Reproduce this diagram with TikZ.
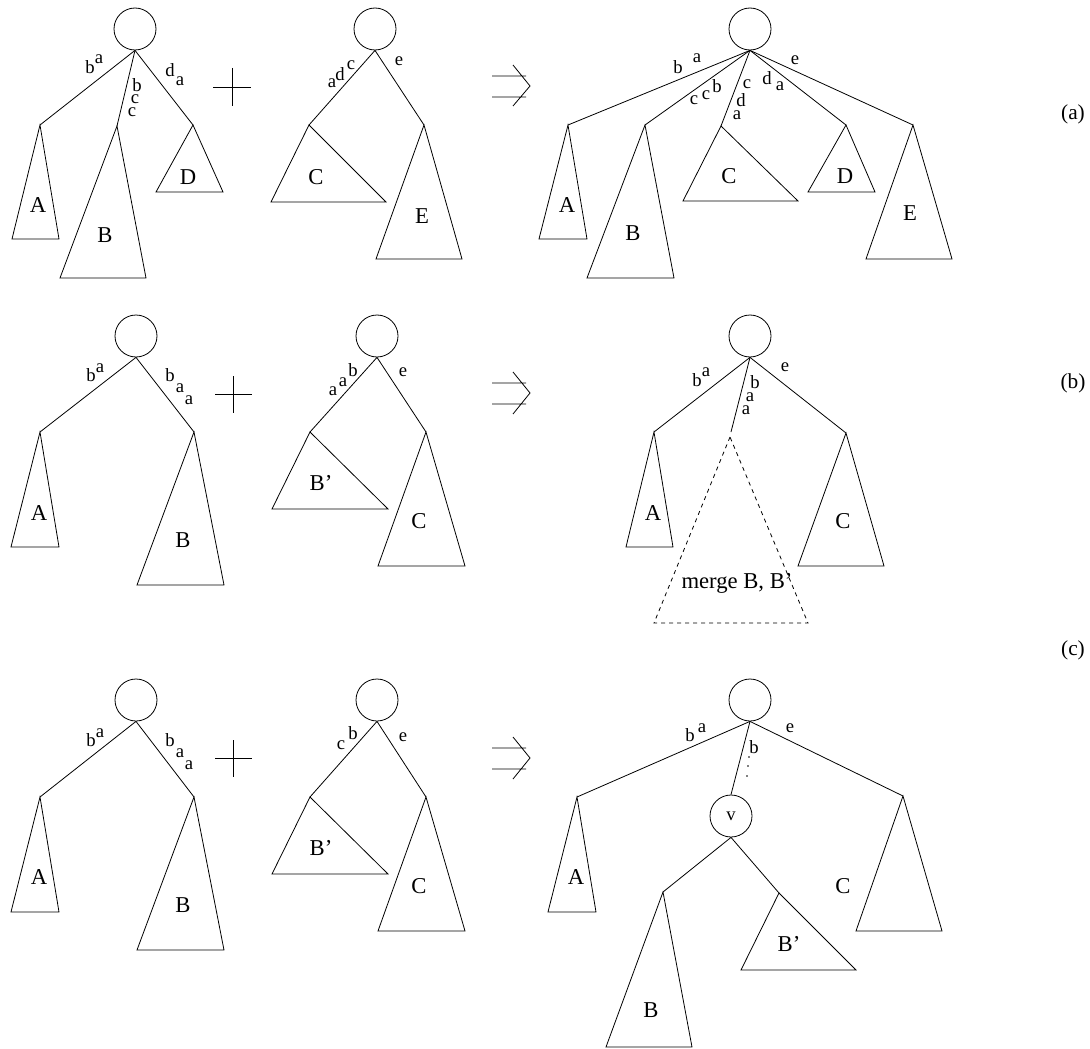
\documentclass[tikz,border=0pt]{standalone}
\usepackage{fontspec}
\setmainfont{Liberation Serif}
\usetikzlibrary{positioning}

\begin{document}
\begin{tikzpicture}[
    x=0.75pt, y=-0.75pt,
    line width=0.6pt,
    root/.style={circle,draw,minimum size=31.5pt,inner sep=0pt},
    sub/.style={font=\fontsize{17}{19}\selectfont,inner sep=0pt},
    lbl/.style={font=\fontsize{14}{15}\selectfont,inner sep=0pt},
    tag/.style={font=\fontsize{16}{18}\selectfont,inner sep=0pt}
  ]
    \useasboundingbox (0,0) rectangle (1090,1049);

    % ---------------- (a) ----------------
    \node[root] (ra1) at (135,29) {};
    \coordinate (ra1A) at (40,125);
    \coordinate (ra1B) at (117,126);
    \coordinate (ra1D) at (193,125);
    \draw (ra1.south) -- (ra1A);
    \draw (ra1.south) -- (ra1B);
    \draw (ra1.south) -- (ra1D);
    \draw (ra1A) -- (12,239) -- (59,239) -- cycle;
    \draw (ra1B) -- (60,278) -- (146,278) -- cycle;
    \draw (ra1D) -- (156,192) -- (223,192) -- cycle;
    \node[sub] (ta1A) at (38,205) {A};
    \node[sub] (ta1B) at (105,235) {B};
    \node[sub] (ta1D) at (188,177) {D};
    \node[lbl] (la1) at (90,67) {b};  \node[lbl] (la2) at (99,59) {a};
    \node[lbl] (la3) at (137,85) {b}; \node[lbl] (la4) at (135,99) {c}; \node[lbl] (la5) at (132,112) {c};
    \node[lbl] (la6) at (170,70) {d}; \node[lbl] (la7) at (180,81) {a};

    \draw (213,87) -- (251,87) (232,68) -- (232,106);

    \node[root] (ra2) at (375,29) {};
    \coordinate (ra2C) at (309,125);
    \coordinate (ra2E) at (424,125);
    \draw (ra2.south) -- (ra2C);
    \draw (ra2.south) -- (ra2E);
    \draw (ra2C) -- (271,202) -- (386,202) -- cycle;
    \draw (ra2E) -- (376,259) -- (462,259) -- cycle;
    \node[sub] (ta2C) at (316,177) {C};
    \node[sub] (ta2E) at (422,216) {E};
    \node[lbl] (la8) at (332,83) {a}; \node[lbl] (la9) at (340,74) {d}; \node[lbl] (la10) at (351,65) {c};
    \node[lbl] (la11) at (399,61) {e};

    \draw (492,76) -- (526,76) (492,97) -- (526,97) (513,65) -- (530,86) -- (513,106);

    \node[root] (ra3) at (750,29) {};
    \coordinate (ra3A) at (568,125);
    \coordinate (ra3B) at (645,125);
    \coordinate (ra3C) at (721,126);
    \coordinate (ra3D) at (846,125);
    \coordinate (ra3E) at (913,125);
    \draw (ra3.south) -- (ra3A);
    \draw (ra3.south) -- (ra3B);
    \draw (ra3.south) -- (ra3C);
    \draw (ra3.south) -- (ra3D);
    \draw (ra3.south) -- (ra3E);
    \draw (ra3A) -- (539,239) -- (587,239) -- cycle;
    \draw (ra3B) -- (587,278) -- (674,278) -- cycle;
    \draw (ra3C) -- (683,201) -- (798,201) -- cycle;
    \draw (ra3D) -- (808,192) -- (875,192) -- cycle;
    \draw (ra3E) -- (866,259) -- (952,259) -- cycle;
    \node[sub] (ta3A) at (567,205) {A};
    \node[sub] (ta3B) at (633,233) {B};
    \node[sub] (ta3C) at (729,176) {C};
    \node[sub] (ta3D) at (845,176) {D};
    \node[sub] (ta3E) at (910,213) {E};
    \node[lbl] (la12) at (678,67) {b}; \node[lbl] (la13) at (697,58) {a};
    \node[lbl] (la14) at (694,100) {c}; \node[lbl] (la15) at (706,95) {c}; \node[lbl] (la16) at (717,86) {b};
    \node[lbl] (la17) at (747,84) {c}; \node[lbl] (la18) at (741,100) {d}; \node[lbl] (la19) at (737,115) {a};
    \node[lbl] (la20) at (767,78) {d}; \node[lbl] (la21) at (780,86) {a};
    \node[lbl] (la22) at (795,60) {e};

    \node[tag] (cap-a) at (1073,114) {(a)};

    % ---------------- (b) ----------------
    \node[root] (rb1) at (136,336) {};
    \coordinate (rb1A) at (40,432);
    \coordinate (rb1B) at (194,432);
    \draw (rb1.south) -- (rb1A);
    \draw (rb1.south) -- (rb1B);
    \draw (rb1A) -- (11,547) -- (59,547) -- cycle;
    \draw (rb1B) -- (137,585) -- (224,585) -- cycle;
    \node[sub] (tb1A) at (39,513) {A};
    \node[sub] (tb1B) at (183,540) {B};
    \node[lbl] (lb1) at (91,375) {b}; \node[lbl] (lb2) at (100,368) {a};
    \node[lbl] (lb3) at (170,375) {b}; \node[lbl] (lb4) at (180,388) {a}; \node[lbl] (lb5) at (189,400) {a};

    \draw (215,394) -- (252,394) (233,376) -- (233,413);

    \node[root] (rb2) at (377,336) {};
    \coordinate (rb2B) at (310,432);
    \coordinate (rb2C) at (426,432);
    \draw (rb2.south) -- (rb2B);
    \draw (rb2.south) -- (rb2C);
    \draw (rb2B) -- (272,509) -- (388,509) -- cycle;
    \draw (rb2C) -- (378,566) -- (465,566) -- cycle;
    \node[sub] (tb2B) at (321,483) {B'};
    \node[sub] (tb2C) at (419,521) {C};
    \node[lbl] (lb6) at (333,391) {a}; \node[lbl] (lb7) at (343,382) {a}; \node[lbl] (lb8) at (353,370) {b};
    \node[lbl] (lb9) at (403,372) {e};

    \draw (492,383) -- (526,383) (492,404) -- (526,404) (513,372) -- (530,393) -- (513,414);

    \node[root] (rb3) at (750,336) {};
    \coordinate (rb3A) at (654,432);
    \coordinate (rb3M) at (731,432);
    \coordinate (rb3C) at (846,433);
    \draw (rb3.south) -- (rb3A);
    \draw (rb3.south) -- (rb3M);
    \draw (rb3.south) -- (rb3C);
    \draw (rb3A) -- (626,547) -- (673,547) -- cycle;
    \draw (rb3C) -- (798,566) -- (884,566) -- cycle;
    \draw[dashed] (730,437) -- (654,623) -- (808,623) -- cycle;
    \node[sub] (tb3A) at (653,513) {A};
    \node[sub] (tb3C) at (843,521) {C};
    \node[sub] (tb3M) at (737,583) {merge B, B'};
    \node[lbl] (lb10) at (697,380) {b}; \node[lbl] (lb11) at (706,372) {a};
    \node[lbl] (lb12) at (755,382) {b}; \node[lbl] (lb13) at (750,397) {a}; \node[lbl] (lb14) at (746,410) {a};
    \node[lbl] (lb15) at (785,367) {e};

    \node[tag] (cap-b) at (1073,383) {(b)};

    % ---------------- (c) ----------------
    \node[root] (rc1) at (136,700) {};
    \coordinate (rc1A) at (40,797);
    \coordinate (rc1B) at (194,797);
    \draw (rc1.south) -- (rc1A);
    \draw (rc1.south) -- (rc1B);
    \draw (rc1A) -- (11,912) -- (59,912) -- cycle;
    \draw (rc1B) -- (137,950) -- (224,950) -- cycle;
    \node[sub] (tc1A) at (39,877) {A};
    \node[sub] (tc1B) at (183,905) {B};
    \node[lbl] (lc1) at (91,740) {b}; \node[lbl] (lc2) at (100,733) {a};
    \node[lbl] (lc3) at (170,740) {b}; \node[lbl] (lc4) at (180,753) {a}; \node[lbl] (lc5) at (189,765) {a};

    \draw (215,758) -- (252,758) (233,740) -- (233,777);

    \node[root] (rc2) at (377,700) {};
    \coordinate (rc2B) at (310,797);
    \coordinate (rc2C) at (426,797);
    \draw (rc2.south) -- (rc2B);
    \draw (rc2.south) -- (rc2C);
    \draw (rc2B) -- (272,874) -- (388,874) -- cycle;
    \draw (rc2C) -- (378,931) -- (465,931) -- cycle;
    \node[sub] (tc2B) at (321,848) {B'};
    \node[sub] (tc2C) at (419,886) {C};
    \node[lbl] (lc6) at (341,745) {c}; \node[lbl] (lc7) at (353,733) {b};
    \node[lbl] (lc8) at (403,737) {e};

    \draw (492,748) -- (526,748) (492,769) -- (526,769) (513,737) -- (530,758) -- (513,779);

    \node[root] (rc3) at (750,700) {};
    \node[root,font=\fontsize{14}{15}\selectfont] (v) at (731,816) {v};
    \coordinate (rc3A) at (577,797);
    \coordinate (rc3C) at (903,796);
    \coordinate (vB) at (663,892);
    \coordinate (vB2) at (779,893);
    \draw (rc3.south) -- (rc3A);
    \draw (rc3.south) -- (v.north);
    \draw (rc3.south) -- (rc3C);
    \draw (v.south) -- (vB);
    \draw (v.south) -- (vB2);
    \draw (rc3A) -- (548,912) -- (596,912) -- cycle;
    \draw (rc3C) -- (856,931) -- (942,931) -- cycle;
    \draw (vB) -- (606,1047) -- (692,1047) -- cycle;
    \draw (vB2) -- (741,970) -- (856,970) -- cycle;
    \node[sub] (tc3A) at (576,877) {A};
    \node[sub] (tc3C) at (843,886) {C};
    \node[sub] (tc3B) at (651,1010) {B};
    \node[sub] (tc3B2) at (789,944) {B'};
    \node[lbl] (lc9) at (690,735) {b}; \node[lbl] (lc10) at (702,728) {a};
    \node[lbl] (lc11) at (754,747) {b};
    \fill (749,757) circle (0.7pt) (748,766) circle (0.7pt) (747,776) circle (0.7pt);
    \node[lbl] (lc12) at (790,728) {e};

    \node[tag] (cap-c) at (1073,650) {(c)};
  \end{tikzpicture}
\end{document}
